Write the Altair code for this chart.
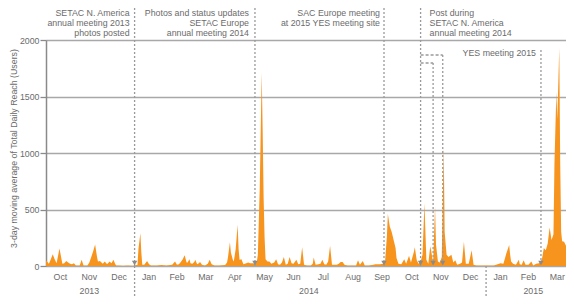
import altair as alt
import pandas as pd

# ---------------- data ----------------
start_date = "2013-10-01"
day_offsets = [
    0, 3, 5, 7, 9, 11, 14, 17, 19, 21, 23, 25, 27, 29, 31, 33, 35, 37, 39, 43,
    45, 47, 49, 51, 53, 54, 56, 59, 61, 63, 64, 66, 68, 70, 72, 73, 76, 80, 85, 90,
    92, 95, 96, 98, 99, 100, 102, 105, 107, 109, 115, 120, 125, 131, 134, 136, 138, 140, 142, 144,
    146, 147, 149, 150, 152, 154, 155, 157, 158, 160, 162, 165, 168, 170, 172, 175, 180, 186, 188, 189,
    191, 192, 194, 195, 197, 199, 200, 201, 203, 205, 208, 210, 212, 215, 217, 219, 220, 222, 224, 225,
    226, 227, 228, 230, 232, 234, 237, 239, 241, 243, 245, 247, 249, 251, 253, 255, 257, 260, 262, 264,
    266, 268, 271, 275, 277, 278, 280, 283, 285, 287, 289, 291, 293, 295, 297, 299, 302, 304, 306, 308,
    310, 313, 318, 322, 324, 326, 329, 331, 335, 340, 342, 345, 347, 350, 352, 354, 355, 357, 359, 361,
    363, 364, 366, 369, 372, 374, 377, 379, 382, 383, 385, 387, 389, 391, 393, 395, 397, 399, 400, 402,
    404, 405, 407, 409, 411, 413, 414, 416, 418, 421, 423, 425, 427, 430, 432, 434, 436, 439, 442, 444,
    447, 455, 465, 469, 472, 475, 478, 481, 482, 483, 485, 488, 491, 492, 494, 496, 498, 501, 504, 506,
    509, 512, 515, 517, 519, 521, 523, 525, 527, 528, 530, 531, 533, 534, 535, 536, 538, 540, 541, 543,
]
reach_users = [
    50, 20, 60, 105, 60, 25, 155, 20, 25, 45, 30, 20, 15, 25, 5, 5, 5, 55, 5, 5,
    30, 80, 130, 190, 80, 40, 45, 20, 40, 20, 20, 40, 25, 55, 15, 5, 5, 3, 5, 3,
    5, 10, 150, 290, 120, 10, 10, 45, 15, 5, 5, 8, 5, 10, 40, 10, 15, 35, 60, 95,
    30, 30, 60, 25, 20, 35, 55, 15, 20, 35, 10, 5, 20, 55, 15, 5, 5, 8, 30, 80,
    210, 120, 55, 40, 150, 365, 150, 55, 60, 15, 25, 30, 25, 25, 20, 40, 100, 700, 1710, 1200,
    600, 250, 60, 40, 40, 20, 30, 60, 15, 10, 30, 80, 10, 20, 80, 25, 20, 55, 15, 20,
    165, 10, 5, 5, 20, 75, 10, 15, 20, 55, 15, 10, 40, 180, 10, 10, 10, 20, 35, 35,
    10, 5, 5, 5, 50, 10, 45, 5, 5, 10, 15, 15, 15, 20, 30, 260, 460, 350, 300, 230,
    160, 70, 20, 15, 60, 20, 90, 30, 125, 165, 50, 20, 40, 100, 555, 55, 20, 175, 135, 30,
    525, 190, 40, 30, 80, 1050, 300, 100, 80, 100, 30, 50, 10, 20, 30, 215, 20, 20, 140, 10,
    5, 5, 5, 15, 25, 20, 110, 185, 100, 40, 20, 10, 55, 15, 10, 50, 10, 10, 40, 5,
    20, 25, 60, 160, 140, 200, 340, 230, 280, 900, 1540, 1300, 1930, 900, 300, 220, 215, 180, 175, 110,
]

y_ticks = [0, 500, 1000, 1500, 2000]

month_label_dates = ["2013-10-16", "2013-11-15", "2013-12-16", "2014-01-16", "2014-02-14",
                     "2014-03-16", "2014-04-15", "2014-05-16", "2014-06-15", "2014-07-16",
                     "2014-08-16", "2014-09-15", "2014-10-16", "2014-11-15", "2014-12-16",
                     "2015-01-16", "2015-02-14", "2015-03-16"]
month_labels = ["Oct", "Nov", "Dec", "Jan", "Feb", "Mar", "Apr", "May", "Jun", "Jul",
                "Aug", "Sep", "Oct", "Nov", "Dec", "Jan", "Feb", "Mar"]
year_label_dates = ["2013-11-15", "2014-07-01", "2015-02-19"]
year_labels = ["2013", "2014", "2015"]
year_break_dates = ["2014-01-01", "2015-01-01"]

event_dates = ["2014-01-01", "2014-05-06", "2014-09-17", "2014-10-25"]
nov_post_dates = ["2014-11-07", "2014-11-17"]
yes_dates = ["2015-02-27"]

ann1_lines = ["SETAC N. America", "annual meeting 2013", "photos posted"]
ann2_lines = ["Photos and status updates", "SETAC Europe", "annual meeting 2014"]
ann3_lines = ["SAC Europe meeting", "at 2015 YES meeting site"]
ann4_lines = ["Post during", "SETAC N. America", "annual meeting 2014"]
ann5_lines = ["YES meeting 2015"]

# ---------------- build tables ----------------
start = pd.Timestamp(start_date)
df = pd.DataFrame({
    "date": [(start + pd.Timedelta(days=d)).strftime("%Y-%m-%d") for d in day_offsets],
    "reach": reach_users,
})

W, H = 520, 226
ORANGE = "#F7941E"
GRAY_TXT = "#6b6b6b"
GRAY_LINE = "#9a9a9a"
FONT = "Liberation Sans"
FS = 8.8


def dt(s, utc=True):
    y, m, d = (int(p) for p in s.split("-"))
    return alt.DateTime(year=y, month=m, date=d, utc=utc)


xscale = alt.Scale(type="utc", domain=[dt("2013-10-01"), dt("2015-03-25")], nice=False)

month_ticks = []
for yy, mm in [(2013, 11), (2013, 12), (2014, 2), (2014, 3), (2014, 4), (2014, 5), (2014, 6),
               (2014, 7), (2014, 8), (2014, 9), (2014, 10), (2014, 11), (2014, 12),
               (2015, 2), (2015, 3)]:
    month_ticks.append(alt.DateTime(year=yy, month=mm, date=1, utc=True))


def X(field="date"):
    return alt.X(f"{field}:T", scale=xscale, axis=None)


area = alt.Chart(df).mark_area(color=ORANGE, clip=True, interpolate="linear", opacity=1).encode(
    x=alt.X("date:T", scale=xscale,
            axis=alt.Axis(values=month_ticks, labels=False, title=None, grid=False,
                          tickSize=5, tickColor="#888", tickWidth=1.2,
                          domainColor="#7a7a7a", domainWidth=1.2)),
    y=alt.Y("reach:Q", scale=alt.Scale(domain=[0, 2000], nice=False, zero=True),
            axis=alt.Axis(values=y_ticks, format="d", grid=True, gridColor="#a8a8a8", gridWidth=1.3,
                          domainColor="#8a8a8a", domainWidth=1.5, tickColor="#8a8a8a",
                          tickWidth=1.3, tickSize=6, labelPadding=1, labelFontSize=FS,
                          labelColor=GRAY_TXT, labelFont=FONT,
                          title="3-day moving average of Total Daily Reach (Users)",
                          titleFont=FONT, titleFontSize=FS, titleFontWeight="normal",
                          titleColor=GRAY_TXT, titleX=-33, titleY=108, titleAngle=270,
                          titleAlign="center", titleBaseline="middle")),
)


def rule_layer(dates, y_top, y_bottom, dash=(2, 2)):
    return alt.Chart(pd.DataFrame({"date": dates})).mark_rule(
        color=GRAY_LINE, strokeDash=list(dash), strokeWidth=1.3
    ).encode(x=X(), y=alt.value(y_top), y2=alt.value(y_bottom))


def hconnector(d1, d2, y):
    return alt.Chart(pd.DataFrame({"date": [d1], "date2": [d2]})).mark_rule(
        color=GRAY_LINE, strokeDash=[3, 2], strokeWidth=1.3
    ).encode(x=X(), x2="date2:T", y=alt.value(y))


def text_lines(date, lines, align, dx, y0, step=10):
    layers = []
    for i, line in enumerate(lines):
        layers.append(
            alt.Chart(pd.DataFrame({"date": [date], "t": [line]})).mark_text(
                align=align, baseline="middle", dx=dx, font=FONT, fontSize=FS, color=GRAY_TXT
            ).encode(x=X(), y=alt.value(y0 + i * step), text="t:N")
        )
    return layers


triangles = alt.Chart(pd.DataFrame({"date": event_dates + nov_post_dates + yes_dates})).mark_point(
    shape="triangle-down", filled=True, size=30, color="#8a8a8a", opacity=1
).encode(x=X(), y=alt.value(H - 3))

month_text = alt.Chart(pd.DataFrame({"date": month_label_dates, "t": month_labels})).mark_text(
    align="center", baseline="middle", font=FONT, fontSize=FS, color=GRAY_TXT
).encode(x=X(), y=alt.value(H + 11), text="t:N")

year_text = alt.Chart(pd.DataFrame({"date": year_label_dates, "t": year_labels})).mark_text(
    align="center", baseline="middle", font=FONT, fontSize=FS, color=GRAY_TXT
).encode(x=X(), y=alt.value(H + 25), text="t:N")

layers = [
    area,
    rule_layer(event_dates, -32, H),
    rule_layer([nov_post_dates[0]], 23, H),
    rule_layer([nov_post_dates[1]], 15, H),
    rule_layer(yes_dates, 10, H),
    rule_layer(year_break_dates, H, H + 40),
    hconnector(event_dates[3], nov_post_dates[1], 15),
    hconnector(event_dates[3], nov_post_dates[0], 23),
    triangles,
    month_text,
    year_text,
]
layers += text_lines(event_dates[0], ann1_lines, "right", -5, -27.5)
layers += text_lines(event_dates[1], ann2_lines, "right", -6, -27.5)
layers += text_lines(event_dates[2], ann3_lines, "right", -4, -27.5)
layers += text_lines(event_dates[3], ann4_lines, "left", 9, -27.5)
layers += text_lines(yes_dates[0], ann5_lines, "right", -5, 13)

chart = alt.layer(*layers).properties(
    width=W, height=H,
    padding={"left": 38, "top": 32, "right": 0, "bottom": 30},
    autosize=alt.AutoSizeParams(type="none"),
).configure_view(stroke=None).configure(font=FONT)

chart.save("out.html", embed_options={"renderer": "svg", "actions": False})
